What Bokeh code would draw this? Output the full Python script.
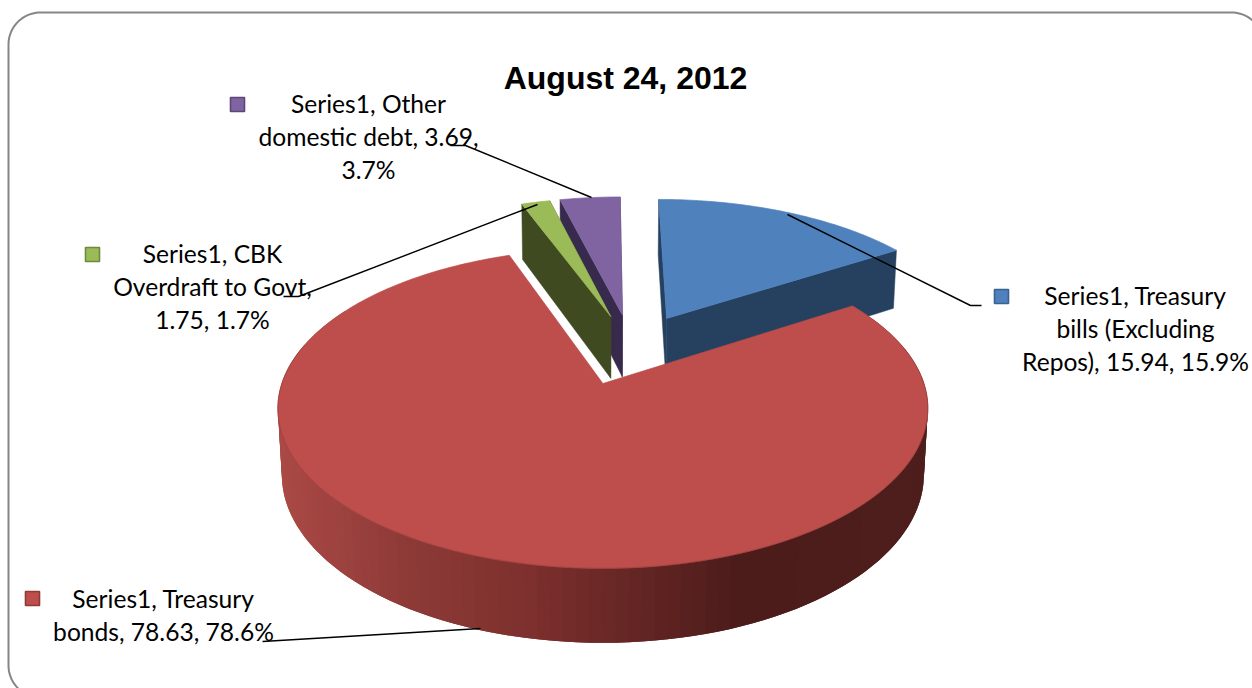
import numpy as np
from bokeh.core.properties import value
from bokeh.embed import file_html
from bokeh.models import Range1d
from bokeh.plotting import figure
from bokeh.resources import INLINE

# Debt composition, August 24, 2012
categories = ["Treasury bills (Excluding Repos)", "Treasury bonds", "CBK Overdraft to Govt", "Other domestic debt"]
amounts = [15.94, 78.63, 1.75, 3.69]
top_colors = ["#4F81BD", "#BD4E4B", "#9BBB59", "#8064A2"]
face_colors = ["#264060", "#4C1C1B", "#404A20", "#382A4C"]
key_edges = ["#3A6291", "#8E3A38", "#71893F", "#5C4776"]
label_lines = [
    ["Series1, Treasury", "bills (Excluding", "Repos), 15.94, 15.9%"],
    ["Series1, Treasury", "bonds, 78.63, 78.6%"],
    ["Series1, CBK", "Overdraft to Govt,", "1.75, 1.7%"],
    ["Series1, Other", "domestic debt, 3.69,", "3.7%"],
]
title = "August 24, 2012"

# Layout of the drawing, in page pixels
explode = [(0.207, 0.446), (-0.005, 0.0), (0.021, 0.46), (0.06, 0.47)]
label_x = [1135, 163, 212, 368]
label_y = [[295, 328, 361], [598, 631], [253, 286, 319], [103, 136, 169]]
key_xy = [(1001, 296), (32, 598), (92, 254), (237, 104)]
leaders = [
    ([787, 970, 981], [214, 305, 305]),
    ([480, 262], [628, 641]),
    ([537, 298, 283], [204, 296, 296]),
    ([591, 465, 450], [197, 145, 145]),
]
LABEL_PX = "24.6px"
CX, CY, SX, SY, PERSP, DEPTH, DEPTH_W = 604, 383, 321, 156, 0.156, 66, 0.012


def project(x, y, lower=False):
    """Map disc coordinates (unit radius, y pointing away) to the page."""
    w = 1 + PERSP * y + (DEPTH_W if lower else 0)
    return CX + SX * x / w, CY + (-SY * y + (DEPTH if lower else 0)) / w


def rim(theta, offset, lower=False):
    return project(np.sin(theta) + offset[0], np.cos(theta) + offset[1], lower)


def shade(x):
    """Side wall colour of the large slice, changing from left to right."""
    xs = [283, 400, 530, 650, 740, 925]
    stops = np.array([[170, 73, 70], [143, 59, 56], [125, 48, 46], [97, 37, 35], [76, 28, 27], [78, 31, 29]])
    rgb = [int(np.interp(x, xs, stops[:, i])) for i in range(3)]
    return "#%02x%02x%02x" % tuple(rgb)


total = sum(amounts)
edges = np.cumsum([0] + amounts) / total * 2 * np.pi

p = figure(width=1252, height=688, x_range=Range1d(0, 1252), y_range=Range1d(688, 0),
           output_backend="svg", toolbar_location=None, min_border=0)
p.xaxis.visible = False
p.yaxis.visible = False
p.grid.visible = False
p.outline_line_color = None
p.background_fill_color = "white"

# Rounded frame running off the right and bottom of the page
L, T, R, B, rad = 8, 12, 1263, 697, 32
corners = [(L + rad, T + rad, np.pi, 1.5 * np.pi), (R - rad, T + rad, 1.5 * np.pi, 2 * np.pi),
           (R - rad, B - rad, 0, 0.5 * np.pi), (L + rad, B - rad, 0.5 * np.pi, np.pi)]
fx, fy = [], []
for ccx, ccy, a0, a1 in corners:
    t = np.linspace(a0, a1, 24)
    fx += list(ccx + rad * np.cos(t))
    fy += list(ccy + rad * np.sin(t))
p.line(fx + fx[:1], fy + fy[:1], line_color="#868686", line_width=2)


def sector_faces(i):
    """Draw the two cut faces of slice i."""
    a0, a1 = edges[i], edges[i + 1]
    off = explode[i]
    ax, ay = project(off[0], off[1])
    bx, by = project(off[0], off[1], True)
    for a in (a0, a1):
        tx, ty = rim(a, off)
        lx, ly = rim(a, off, True)
        p.patch([ax, tx, lx, bx], [ay, ty, ly, by], fill_color=face_colors[i],
                line_color=face_colors[i], line_width=0.5)


def sector_top(i):
    a0, a1 = edges[i], edges[i + 1]
    off = explode[i]
    ax, ay = project(off[0], off[1])
    t = np.linspace(a0, a1, max(12, int((a1 - a0) * 60)))
    tx, ty = rim(t, off)
    p.patch([ax] + list(tx), [ay] + list(ty), fill_color=top_colors[i],
            line_color=top_colors[i], line_width=0.7)


# Far slices first, the large front slice last
for i in (3, 2, 0):
    sector_faces(i)
    sector_top(i)

# Curved wall of the large slice: each strip overlaps the next two
# so that no light seams show between neighbours
i = 1
wall = np.linspace(np.radians(62), np.radians(300), 120)
x_lo, y_lo = rim(wall, explode[i], True)
x_up, y_up = rim(wall, explode[i])
for k in range(len(wall) - 1):
    end = min(k + 3, len(wall))
    xs_ = list(x_up[k:end]) + list(x_lo[k:end][::-1])
    ys_ = list(y_up[k:end]) + list(y_lo[k:end][::-1])
    col = shade((x_up[k] + x_up[k + 1]) / 2)
    p.patch(xs_, ys_, fill_color=col, line_color=None)
sector_top(1)

# Thin darker seam where the top meets the wall
seam = np.linspace(np.radians(75), np.radians(285), 180)
sx_, sy_ = rim(seam, explode[1])
p.line(sx_, sy_, line_color="#9A3E3B", line_width=0.7)

# Leader lines
for lx, ly in leaders:
    p.line(lx, ly, line_color="black", line_width=1.4)

# Labels and their colour keys
label_font = value("Lato")
for i, lines in enumerate(label_lines):
    p.text([label_x[i]] * len(lines), label_y[i], text=lines, text_font=label_font,
           text_font_size=LABEL_PX, text_color="#000000", text_align="center", text_baseline="middle")
    p.rect([key_xy[i][0]], [key_xy[i][1]], width=14, height=14, fill_color=top_colors[i],
           line_color=key_edges[i], line_width=1.6)

p.text([625], [77], text=[title], text_font=value("Liberation Sans"), text_font_style="bold",
       text_font_size="32px", text_color="#000000", text_align="center", text_baseline="middle")

html = file_html(p, INLINE)
html = html.replace("<head>", "<head><style>html,body{margin:0;padding:0;background:#fff;overflow:hidden}</style>", 1)
open("out.html", "w").write(html)
